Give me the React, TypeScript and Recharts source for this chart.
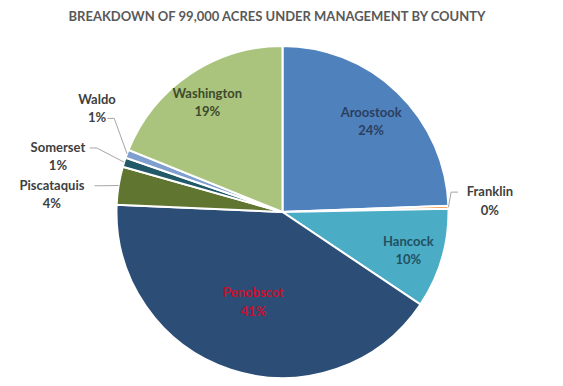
import React from "react";
import { PieChart, Pie, Cell } from "recharts";

const counties = ["Aroostook", "Franklin", "Hancock", "Penobscot", "Piscataquis", "Somerset", "Waldo", "Washington"];
const shares = [24.4, 0.3, 9.7, 41.3, 3.7, 0.9, 0.8, 18.9];
const colors = ["#4f81bd", "#f79646", "#4bacc6", "#2c4d75", "#5f7530", "#215968", "#7f9fcf", "#aac47d"];
const title = "BREAKDOWN OF 99,000 ACRES UNDER MANAGEMENT BY COUNTY";

const data = counties.map((name, i) => ({ name, value: shares[i] }));

// label layout: inside labels use radius factor; outside labels use leader lines
const labelStyle: Record<string, any> = {
  Aroostook: { inside: true, rf: 0.77, color: "#2a3f60" },
  Hancock: { inside: true, rf: 0.79, color: "#23505e" },
  Penobscot: { inside: true, rf: 0.56, color: "#c8102e" },
  Washington: { inside: true, rf: 0.81, color: "#3d4a2c" },
  Franklin: { inside: false, tx: 1.25, dy: -10, attach: 0, color: "#404040" },
  Piscataquis: { inside: false, tx: 1.407, dy: 15, attach: 0, color: "#404040" },
  Somerset: { inside: false, tx: 1.418, dy: 10.6, attach: 0, color: "#404040" },
  Waldo: { inside: false, tx: 1.193, dy: -38.7, attach: 1, color: "#404040" },
};

const RAD = Math.PI / 180;
const FONT = "Lato, 'Open Sans', sans-serif";
const LINE = 18.5;

const renderLabel = (props: any) => {
  const { cx, cy, midAngle, outerRadius, percent, name } = props;
  const st = labelStyle[name];
  const pct = `${Math.round(percent * 100)}%`;
  const cos = Math.cos(-midAngle * RAD);
  const sin = Math.sin(-midAngle * RAD);
  if (st.inside) {
    const x = cx + outerRadius * st.rf * cos;
    const y = cy + outerRadius * st.rf * sin;
    return (
      <text x={x} y={y} textAnchor="middle" fill={st.color} fontFamily={FONT} fontSize={13} fontWeight="bold">
        <tspan x={x} dy={-3}>{name}</tspan>
        <tspan x={x} dy={LINE}>{pct}</tspan>
      </text>
    );
  }
  const sx = cx + outerRadius * cos;
  const sy = cy + outerRadius * sin;
  const lx = cx + outerRadius * st.tx * cos;
  const ly = cy + outerRadius * st.tx * sin + st.dy;
  const right = cos > 0;
  const txt = st.attach === 1 ? pct : name;
  const half = txt.length * 3.6 + 3;
  const ey = ly + st.attach * LINE - 4;
  const endX = right ? lx - half : lx + half;
  const elbowX = right ? endX - 7 : endX + 7;
  return (
    <g>
      <polyline points={`${sx},${sy} ${elbowX},${ey} ${endX},${ey}`} fill="none" stroke="#a6a6a6" strokeWidth={1} />
      <text x={lx} y={ly} textAnchor="middle" fill={st.color} fontFamily={FONT} fontSize={13} fontWeight="bold">
        <tspan x={lx} dy={0}>{name}</tspan>
        <tspan x={lx} dy={LINE}>{pct}</tspan>
      </text>
    </g>
  );
};

export default function App() {
  return (
    <div style={{ position: "absolute", left: 0, top: 0, width: 563, height: 386, background: "#fff" }}>
      <PieChart width={563} height={386} margin={{ top: 0, right: 0, bottom: 0, left: 0 }}>
        <text x={277} y={21} textAnchor="middle" fill="#595959" fontFamily={FONT} fontSize={13} fontWeight="bold">
          {title}
        </text>
        <Pie
          data={data}
          dataKey="value"
          nameKey="name"
          cx={282.5}
          cy={212}
          outerRadius={166}
          startAngle={90}
          endAngle={-270}
          stroke="#ffffff"
          strokeWidth={2}
          label={renderLabel}
          labelLine={false}
          isAnimationActive={false}
        >
          {data.map((d, i) => (
            <Cell key={d.name} fill={colors[i]} />
          ))}
        </Pie>
      </PieChart>
    </div>
  );
}
